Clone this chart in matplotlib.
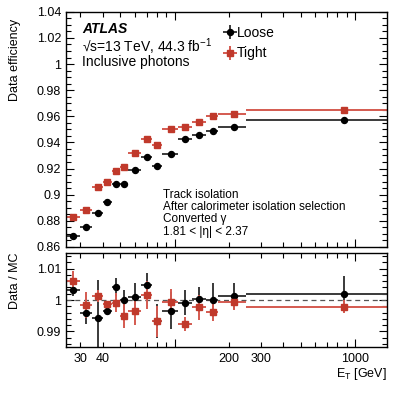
import numpy as np
import matplotlib
matplotlib.use("Agg")
import matplotlib.pyplot as plt
from matplotlib.ticker import FixedLocator, FuncFormatter, MultipleLocator

plt.rcParams['font.family'] = ['Liberation Sans', 'DejaVu Sans']
plt.rcParams['mathtext.fontset'] = 'custom'
plt.rcParams['mathtext.rm'] = 'Liberation Sans'
plt.rcParams['mathtext.it'] = 'Liberation Sans:italic'

# ---- bin edges in ET [GeV]
edges = [25, 30, 35, 40, 45, 50, 55, 65, 75, 85, 105, 125, 150, 175, 250, 1500]

# ---- data efficiency
loose_eff = [0.868, 0.875, 0.886, 0.894, 0.908, 0.908, 0.919, 0.929, 0.922, 0.931,
             0.943, 0.946, 0.949, 0.952, 0.957]
tight_eff = [0.883, 0.888, 0.906, 0.910, 0.918, 0.921, 0.932, 0.943, 0.938, 0.950,
             0.952, 0.956, 0.960, 0.962, 0.965]
loose_eff_err = [0.0004] * 15
tight_eff_err = [0.0004] * 15

# ---- data / MC
loose_sf = [1.0032, 0.9960, 0.9943, 0.9966, 1.0042, 1.0000, 1.0010, 1.0047, 0.9933, 0.9966,
            0.9991, 1.0002, 1.0000, 1.0013, 1.0019]
loose_sf_err = [0.0020, 0.0037, 0.0120, 0.0012, 0.0028, 0.0033, 0.0045, 0.0040, 0.0055, 0.0060,
                0.0040, 0.0040, 0.0053, 0.0042, 0.0057]
tight_sf = [1.0061, 0.9984, 1.0013, 0.9986, 0.9992, 0.9950, 0.9965, 1.0016, 0.9932, 0.9995,
            0.9923, 0.9977, 0.9963, 0.9995, 0.9979]
tight_sf_err = [0.0030, 0.0040, 0.0020, 0.0010, 0.0030, 0.0040, 0.0045, 0.0045, 0.0050, 0.0040,
                0.0023, 0.0040, 0.0030, 0.0027, 0.0020]

e = np.array(edges, dtype=float)
xc = 0.5 * (e[:-1] + e[1:])
xerr = [xc - e[:-1], e[1:] - xc]

red = '#c0392b'
red_line = '#d45a50'
blk_line = '#3a3a3a'

fig = plt.figure(figsize=(4.07, 3.95), dpi=100)
ax1 = fig.add_axes([0.162, 0.375, 0.788, 0.595])
ax2 = fig.add_axes([0.162, 0.1215, 0.788, 0.238])

ax1.errorbar(xc, loose_eff, yerr=loose_eff_err, xerr=xerr, fmt='o', color='black', ms=4.3,
             ecolor=blk_line, elinewidth=1.4, capsize=0, label='Loose')
ax1.errorbar(xc, tight_eff, yerr=tight_eff_err, xerr=xerr, fmt='s', color=red, ms=4.6,
             ecolor=red_line, elinewidth=1.4, capsize=0, label='Tight')

ax2.axhline(1.0, color='#555555', ls='--', lw=0.9, dashes=(4, 3))
ax2.errorbar(xc, loose_sf, yerr=loose_sf_err, xerr=xerr, fmt='o', color='black', ms=4.3,
             ecolor=blk_line, elinewidth=1.4, capsize=0)
ax2.errorbar(xc, tight_sf, yerr=tight_sf_err, xerr=xerr, fmt='s', color=red, ms=4.6,
             ecolor=red_line, elinewidth=1.4, capsize=0)

ax1.set_ylim(0.86, 1.04)
ax2.set_ylim(0.985, 1.015)

fmt_g = FuncFormatter(lambda v, p: '%g' % round(v, 4))
labeled = [30, 40, 200, 300]
minor_x = [m * d for d in (10, 100, 1000) for m in range(2, 10)]
minor_x = [v for v in minor_x if 25 <= v <= 1500]

for ax in (ax1, ax2):
    ax.set_xscale('log')
    ax.set_xlim(25, 1500)
    ax.xaxis.set_major_locator(FixedLocator([100, 1000]))
    ax.xaxis.set_minor_locator(FixedLocator(minor_x))
    ax.tick_params(which='both', direction='in', top=True, right=True, labelsize=9)
    ax.tick_params(which='major', length=6, width=0.8)
    ax.tick_params(which='minor', length=3.5, width=0.8)
    ax.yaxis.set_major_formatter(fmt_g)
    for sp in ax.spines.values():
        sp.set_linewidth(1.0)

ax1.yaxis.set_major_locator(MultipleLocator(0.02))
ax1.yaxis.set_minor_locator(MultipleLocator(0.005))
ax2.yaxis.set_major_locator(MultipleLocator(0.01))
ax2.yaxis.set_minor_locator(MultipleLocator(0.002))

ax1.tick_params(axis='x', which='both', labelbottom=False)
ax2.xaxis.set_major_formatter(FuncFormatter(lambda v, p: '1000' if abs(v - 1000) < 1 else ''))
ax2.xaxis.set_minor_formatter(FuncFormatter(lambda v, p: '%d' % v if int(round(v)) in labeled else ''))
ax2.tick_params(axis='x', which='both', pad=4)

ax1.set_ylabel('Data efficiency', fontsize=9, loc='top')
ax1.yaxis.set_label_coords(-0.14, 0.97)
ax2.set_ylabel('Data / MC', fontsize=9, loc='top')
ax2.yaxis.set_label_coords(-0.14, 1.0)
ax2.set_xlabel(r'E$_{\rm T}$ [GeV]', fontsize=9, loc='right', labelpad=1)

ax1.text(0.05, 0.925, 'ATLAS', transform=ax1.transAxes, fontsize=10,
         fontweight='bold', fontstyle='italic', va='center')
ax1.text(0.05, 0.853, '\u221as=13 TeV, 44.3 fb$^{-1}$', transform=ax1.transAxes,
         fontsize=10, va='center')
ax1.text(0.05, 0.785, 'Inclusive photons', transform=ax1.transAxes, fontsize=10, va='center')

info = ['Track isolation', 'After calorimeter isolation selection',
        'Converted \u03b3', '1.81 < |\u03b7| < 2.37']
for i, line in enumerate(info):
    ax1.text(0.302, 0.221 - i * 0.052, line, transform=ax1.transAxes, fontsize=8.5, va='center')

leg = ax1.legend(loc='upper left', bbox_to_anchor=(0.455, 0.995), frameon=False, fontsize=10,
                 handlelength=0.8, handletextpad=0.1, labelspacing=0.5)

fig.savefig('out.png', dpi=100)
